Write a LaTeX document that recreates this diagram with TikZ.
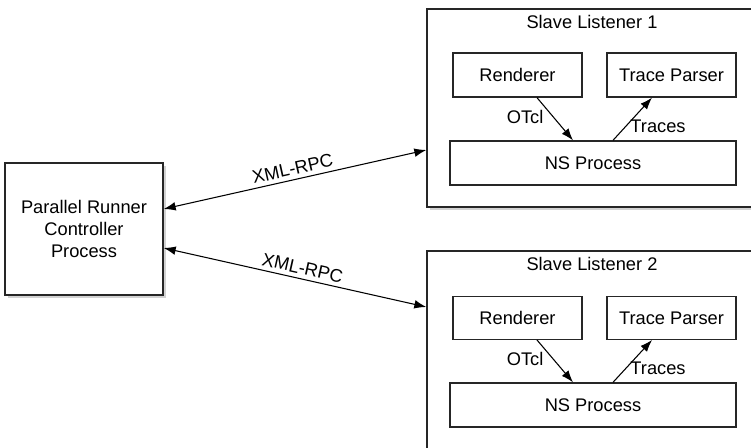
\documentclass[tikz,border=0pt]{standalone}
\usepackage{fontspec}
\setmainfont{Liberation Sans}
\usetikzlibrary{calc,arrows.meta,shadows}
\begin{document}
\begin{tikzpicture}[x=0.75pt,y=-0.75pt,
  font=\fontsize{13.7}{16.5}\selectfont,
  box/.style={draw=black!85,line width=1pt,fill=white,rectangle,inner sep=0pt},
  shadowbox/.style={box,drop shadow={shadow xshift=2.2pt,shadow yshift=-2.2pt,fill=black!35}},
  arr/.style={line width=0.8pt,-{Latex[length=9pt,width=6.5pt]}},
  darr/.style={line width=0.8pt,{Latex[length=9pt,width=6.5pt]}-{Latex[length=9pt,width=6.5pt]}},
  lbl/.style={inner sep=1pt}]
\useasboundingbox (0,0) rectangle (751,448);
\clip (0,0) rectangle (751,448);
% controller
\node[shadowbox,minimum width=118.5pt,minimum height=99pt,align=center] (C) at (84,229)
  {Parallel Runner\\Controller\\Process};
% slave listeners
\node[shadowbox,minimum width=257.25pt,minimum height=148.5pt] (S1) at (598.5,108) {};
\node[shadowbox,minimum width=257.25pt,minimum height=156.75pt] (S2) at (598.5,355.5) {};
\node[lbl] (T1) at (592,22) {Slave Listener 1};
\node[lbl] (T2) at (592,264) {Slave Listener 2};
% inner boxes 1
\node[box,minimum width=96.75pt,minimum height=33pt] (R1) at (517.5,75) {Renderer};
\node[box,minimum width=96.75pt,minimum height=33pt] (P1) at (671.5,75) {Trace Parser};
\node[box,minimum width=214.5pt,minimum height=33pt] (N1) at (593,163) {NS Process};
% inner boxes 2
\node[box,minimum width=96.75pt,minimum height=32pt] (R2) at (517.5,318) {Renderer};
\node[box,minimum width=96.75pt,minimum height=32pt] (P2) at (671.5,318) {Trace Parser};
\node[box,minimum width=214.5pt,minimum height=33pt] (N2) at (593,405) {NS Process};
% inner arrows 1
\draw[arr] ($(R1.south)+(19.5,0)$) -- ($(N1.north)+(-20,0)$)
  node[lbl,pos=0.45,anchor=east,xshift=-6pt] {OTcl};
\draw[arr] ($(N1.north)+(20,0)$) -- ($(P1.south)+(-19.5,0)$)
  node[lbl,pos=0.4,anchor=west,xshift=0pt,yshift=-2pt] {Traces};
% inner arrows 2
\draw[arr] ($(R2.south)+(19.5,0)$) -- ($(N2.north)+(-20,0)$)
  node[lbl,pos=0.45,anchor=east,xshift=-6pt] {OTcl};
\draw[arr] ($(N2.north)+(20,0)$) -- ($(P2.south)+(-19.5,0)$)
  node[lbl,pos=0.4,anchor=west,xshift=0pt,yshift=-2pt] {Traces};
% XML-RPC arrows
\draw[darr] ($(C.east)+(0,-20)$) -- ($(S1.west)+(0,42)$)
  node[lbl,midway,sloped,above,yshift=2pt] {XML-RPC};
\draw[darr] ($(C.east)+(0,19)$) -- ($(S2.west)+(0,-48.5)$)
  node[lbl,midway,sloped,above,yshift=2pt,xshift=4pt] {XML-RPC};
\end{tikzpicture}
\end{document}
